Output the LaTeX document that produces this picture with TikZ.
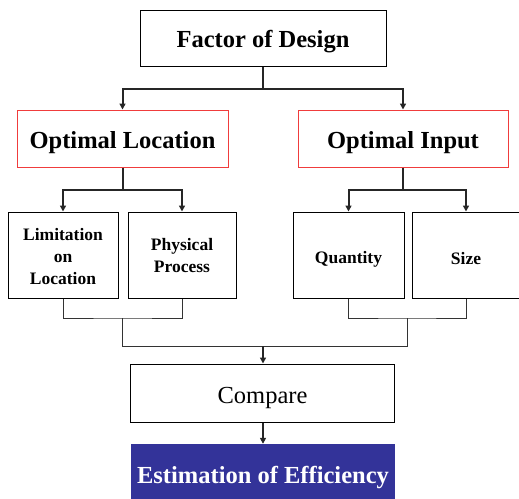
\documentclass[tikz,border=0pt]{standalone}
\usepackage{fontspec}
\setmainfont{Liberation Serif}
\usetikzlibrary{arrows.meta}
\definecolor{boxred}{HTML}{F03C3C}
\definecolor{estblue}{HTML}{333399}
% lower the glyphs inside a box without changing the box extent
\newcommand\dropby[2]{\raisebox{-#1}[\height][\depth]{#2}}
\newcommand\stack[1]{\begin{tabular}{@{}c@{}}#1\end{tabular}}
\tikzset{
  box/.style={draw=black, line width=1pt, fill=white, inner sep=0pt, align=center},
  redbox/.style={box, draw=boxred},
  bigtext/.style={font=\bfseries\fontsize{24.5}{27}\selectfont},
  smalltext/.style={font=\bfseries\fontsize{17.5}{22}\selectfont},
  conn/.style={line width=2pt, draw=black!85},
  thin/.style={line width=1pt, draw=black!80},
  arr/.style={conn, -{Triangle[length=6pt,width=6pt]}},
}
\begin{document}
\begin{tikzpicture}[x=1pt, y=-1pt]
\useasboundingbox (0,0) rectangle (519,498);
\begin{scope}
\clip (0,0) rectangle (519,498);

% boxes
\node[box, bigtext, minimum width=246pt, minimum height=56pt] (fac) at (263,38) {\dropby{4pt}{Factor of Design}};
\node[redbox, bigtext, minimum width=211pt, minimum height=57pt] (loc) at (122.5,138.5) {\dropby{4pt}{Optimal Location}};
\node[redbox, bigtext, minimum width=210pt, minimum height=57pt] (inp) at (403,138.5) {\dropby{4pt}{Optimal Input}};

\node[box, smalltext, minimum width=110pt, minimum height=86pt] (lim) at (63,255) {\dropby{3pt}{\stack{Limitation\\on\\Location}}};
\node[box, smalltext, minimum width=108pt, minimum height=86pt] (phy) at (182,255) {\dropby{2pt}{\stack{Physical\\Process}}};
\node[box, smalltext, minimum width=111pt, minimum height=86pt] (qty) at (348.5,255) {\dropby{4.5pt}{Quantity}};
\node[box, smalltext, minimum width=108pt, minimum height=86pt] (siz) at (466,255) {\dropby{4pt}{Size}};

\node[box, font=\fontsize{24.5}{27}\selectfont, minimum width=264pt, minimum height=58pt] (cmp) at (262.5,393) {\dropby{5pt}{Compare}};
\node[draw=none, fill=estblue, text=white, bigtext, inner sep=0pt, minimum width=264pt, minimum height=62pt] (est) at (263,475) {\dropby{3pt}{Estimation of Efficiency}};

% junction points
\coordinate (j1) at (263,89);
\coordinate (j2) at (122.5,190);
\coordinate (j3) at (403,190);
\coordinate (b1) at (122.5,318);
\coordinate (b2) at (407,318);
\coordinate (b1d) at (122.5,346);
\coordinate (b2d) at (407,346);
\coordinate (bm) at (263,346);

% top-level branches
\draw[conn] (fac.south) -- (j1);
\draw[arr] (j1) -| (loc.north);
\draw[arr] (j1) -| (inp.north);
\draw[conn] (loc.south) -- (j2);
\draw[arr] (j2) -| (lim.north);
\draw[arr] (j2) -| (phy.north);
\draw[conn] (inp.south) -- (j3);
\draw[arr] (j3) -| (qty.north);
\draw[arr] (j3) -| (siz.north);

% merging lines
\draw[thin] (lim.south) |- (b1) -| (phy.south);
\draw[thin] (qty.south) |- (b2) -| (siz.south);
\draw[thin] (b1) -- (b1d) -- (b2d) -- (b2);
\draw[arr] (bm) -- (bm |- cmp.north);
\draw[arr] (cmp.south -| bm) -- (est.north -| bm);
\end{scope}
\end{tikzpicture}
\end{document}
